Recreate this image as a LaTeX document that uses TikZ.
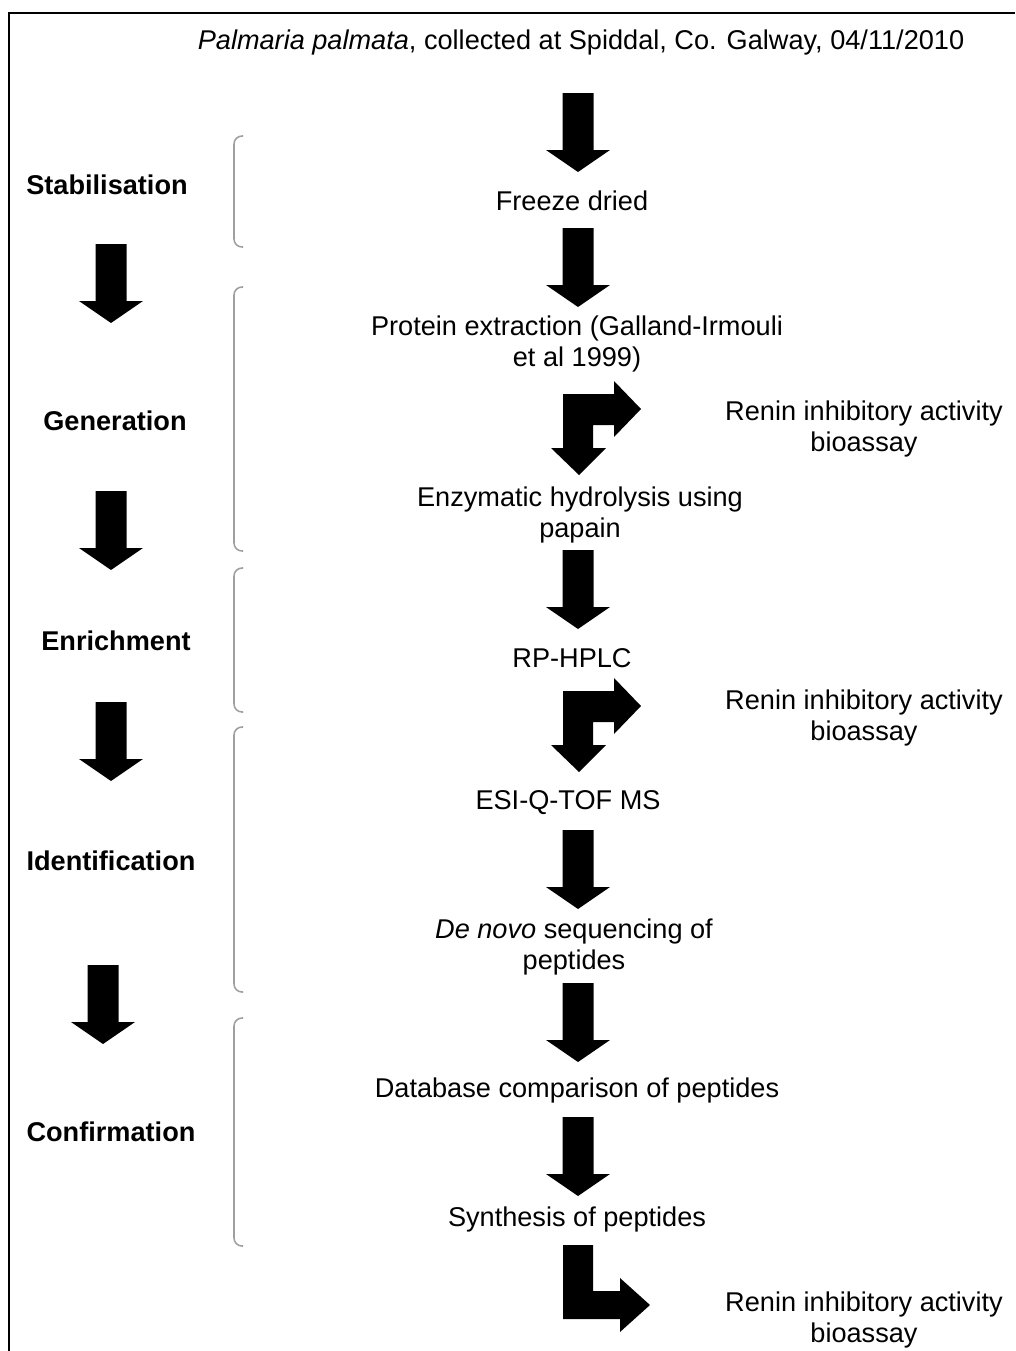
\documentclass[tikz,border=0pt]{standalone}
\usepackage{fontspec}
\setmainfont{Liberation Sans}
\usetikzlibrary{calc}

\tikzset{
  txt/.style={align=center,inner sep=0pt,font=\fontsize{19.3}{22.5}\selectfont},
  stage/.style={txt,font=\fontsize{19.3}{22.5}\selectfont\bfseries},
  brace/.style={draw=gray!75,line width=1.1pt,rounded corners=0.2cm},
  blockdown/.pic={
    \fill (-15.5,0) -- (15.5,0) -- (15.5,57) -- (32,57) -- (0,79)
      -- (-32,57) -- (-15.5,57) -- cycle;
  },
  blockfork/.pic={
    \fill (-15,0) -- (36,0) -- (36,-13) -- (63,15) -- (36,43) -- (36,31)
      -- (15,31) -- (15,54) -- (28,54) -- (1,81) -- (-27,54) -- (-15,54) -- cycle;
  },
}

\begin{document}
\begin{tikzpicture}[x=0.025cm,y=-0.025cm]
  \useasboundingbox (0,0) rectangle (1015,1351);
  % frame
  \draw[line width=1.5pt] (1015,13) -- (9,13) -- (9,1351);

  % process steps
  \node[txt] (src) at (581,42) {\textit{Palmaria palmata}, collected at Spiddal, Co. Galway, 04/11/2010};
  \node[txt] (fd) at (572,201) {Freeze dried};
  \node[txt] (pe) at (577,344) {Protein extraction (Galland-Irmouli\\et al 1999)};
  \node[txt] (eh) at (580,515) {Enzymatic hydrolysis using\\papain};
  \node[txt] (hplc) at (572,658) {RP-HPLC};
  \node[txt] (ms) at (568,803) {ESI-Q-TOF MS};
  \node[txt] (dn) at (574,947) {\textit{De novo} sequencing of\\peptides};
  \node[txt] (db) at (577,1090) {Database comparison of peptides};
  \node[txt] (syn) at (577,1219) {Synthesis of peptides};
  \node[txt] (r1) at (864,429) {Renin inhibitory activity\\bioassay};
  \node[txt] (r2) at (864,718) {Renin inhibitory activity\\bioassay};
  \node[txt] (r3) at (864,1320) {Renin inhibitory activity\\bioassay};

  % stages
  \node[stage] (l1) at (107,185) {Stabilisation};
  \node[stage] (l2) at (115,421) {Generation};
  \node[stage] (l3) at (116,641) {Enrichment};
  \node[stage] (l4) at (111,861) {Identification};
  \node[stage] (l5) at (111,1132) {Confirmation};

  % braces
  \foreach \ya/\yb in {136/247,287/551,568/712,727/992,1018/1246}
    \draw[brace] (243,\ya) -- (234,\ya) -- (234,\yb) -- (243,\yb);

  % block arrows
  \foreach \xa/\ya in {578/93,578/228,578/550,578/830,578/983,578/1117,
                       111/244,111/491,111/702,103/965}
    \pic at (\xa,\ya) {blockdown};
  \pic at (578,394) {blockfork};
  \pic at (578,691) {blockfork};
  \fill (563,1245) -- (593,1245) -- (593,1291) -- (620,1291) -- (620,1278)
    -- (650,1305) -- (620,1332) -- (620,1319) -- (563,1319) -- cycle;
\end{tikzpicture}
\end{document}
